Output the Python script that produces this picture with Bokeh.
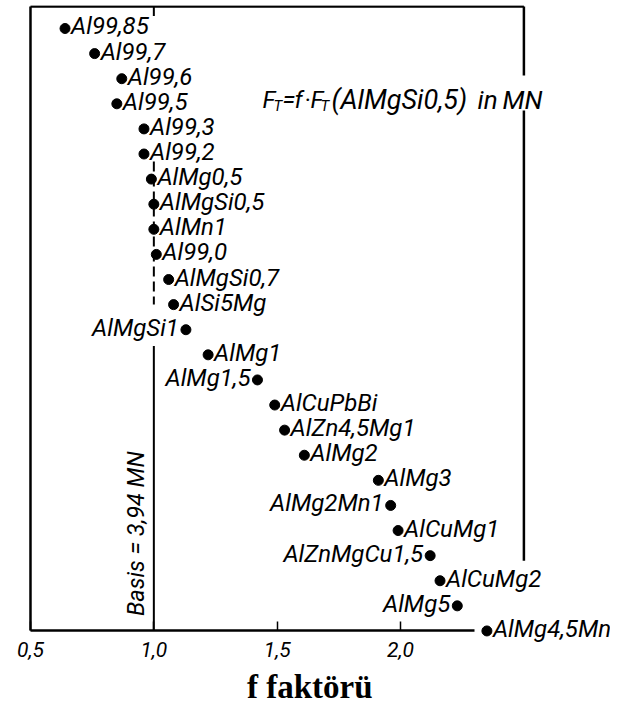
from bokeh.plotting import figure
from bokeh.models import Range1d, FixedTicker, Label, ColumnDataSource
from bokeh.core.properties import value
from bokeh.embed import file_html
from bokeh.resources import INLINE

# ---- data ----
alloys = ["Al99,85", "Al99,7", "Al99,6", "Al99,5", "Al99,3", "Al99,2", "AlMg0,5",
          "AlMgSi0,5", "AlMn1", "Al99,0", "AlMgSi0,7", "AlSi5Mg", "AlMgSi1", "AlMg1",
          "AlMg1,5", "AlCuPbBi", "AlZn4,5Mg1", "AlMg2", "AlMg3", "AlMg2Mn1", "AlCuMg1",
          "AlZnMgCu1,5", "AlCuMg2", "AlMg5", "AlMg4,5Mn"]
f_factor = [0.64, 0.76, 0.87, 0.85, 0.96, 0.96, 0.99, 1.00, 1.00, 1.01, 1.06, 1.08,
            1.13, 1.22, 1.42, 1.49, 1.53, 1.61, 1.91, 1.96, 1.99, 2.12, 2.16, 2.23, 2.35]
label_side = ["r"] * 12 + ["l", "r", "l", "r", "r", "r", "r", "l", "r", "l", "r", "l", "r"]
tick_values = [0.5, 1.0, 1.5, 2.0]
tick_labels = ["0,5", "1,0", "1,5", "2,0"]
basis_text = "Basis = 3,94 MN"
x_title = "f faktörü"

rows = list(range(len(alloys)))
axis_row = 23.98

FONT = "Roboto"

p = figure(width=610, height=710,
           x_range=Range1d(0.3987, 2.851), y_range=Range1d(26.97, -0.916),
           output_backend="svg", toolbar_location=None,
           min_border_left=5, min_border_right=0, min_border_top=5, min_border_bottom=5,
           y_axis_location=None, outline_line_color=None)
p.grid.visible = False
p.background_fill_color = "white"
p.border_fill_color = "white"

# x axis, drawn at a fixed place inside the frame
ax = p.xaxis[0]
ax.fixed_location = axis_row
ax.ticker = FixedTicker(ticks=tick_values)
ax.major_label_overrides = {v: s for v, s in zip(tick_values, tick_labels)}
ax.bounds = (0.5, 2.3)
ax.axis_line_width = 2.5
ax.axis_line_color = "black"
ax.major_tick_in = 9
ax.major_tick_out = 0
ax.major_tick_line_width = 1.5
ax.major_tick_line_color = "black"
ax.minor_tick_line_color = None
ax.major_label_text_font = FONT
ax.major_label_text_font_style = "italic"
ax.major_label_text_font_size = "21px"
ax.major_label_text_color = "black"
ax.major_label_standoff = 12

# axis title
p.add_layout(Label(x=1.632, y=26.25, text=x_title, text_align="center", text_baseline="middle",
                   text_font="Liberation Serif", text_font_style="bold", text_font_size="33px",
                   text_color="black"))

# frame (left, top, right with a gap for the formula)
top_row = -0.88
p.line([0.5, 0.5], [top_row, axis_row], line_color="black", line_width=2.5)
p.line([0.5, 2.5], [top_row, top_row], line_color="black", line_width=2.5)
p.line([2.5, 2.5], [top_row, 1.87], line_color="black", line_width=2.5)
p.line([2.5, 2.5], [3.27, 21.2], line_color="black", line_width=2.5)

# basis line at f = 1.0
p.line([1.0, 1.0], [top_row, -0.5], line_color="black", line_width=2)
p.line([1.0, 1.0], [5.3, 11.0], line_color="black", line_width=2, line_dash="10 5")
p.line([1.0, 1.0], [12.65, axis_row], line_color="black", line_width=2)

# points
p.scatter(f_factor, rows, size=10, color="black")

# labels
src_r = ColumnDataSource(dict(x=[f for f, s in zip(f_factor, label_side) if s == "r"],
                              y=[r for r, s in zip(rows, label_side) if s == "r"],
                              t=[a for a, s in zip(alloys, label_side) if s == "r"]))
src_l = ColumnDataSource(dict(x=[f for f, s in zip(f_factor, label_side) if s == "l"],
                              y=[r for r, s in zip(rows, label_side) if s == "l"],
                              t=[a for a, s in zip(alloys, label_side) if s == "l"]))
common = dict(text="t", text_baseline="middle", text_font=value(FONT),
              text_font_style="italic", text_font_size="24px", text_color="black")
p.text(x="x", y="y", source=src_r, x_offset=6, y_offset=-2, text_align="left", **common)
p.text(x="x", y="y", source=src_l, x_offset=-7, y_offset=-2, text_align="right", **common)

# rotated basis text
p.add_layout(Label(x=1.0, y=23.4, text=basis_text, angle=90, angle_units="deg",
                   x_offset=-18, text_align="left", text_baseline="alphabetic",
                   text_font=FONT, text_font_style="italic", text_font_size="23.5px",
                   text_color="black"))

# formula F_T = f · F_T (AlMgSi0,5) in MN, placed piece by piece (screen px in frame)
tstyle = dict(x_units="screen", y_units="screen", text_font=FONT, text_font_style="italic",
              text_color="black", text_baseline="alphabetic", text_align="left")
frame_h = 700
pieces = [("F", 257, 99, 24), ("T", 268, 105, 15), ("=", 277, 99, 24), ("f", 289, 99, 24),
          ("·", 299, 99, 24), ("F", 305, 99, 24), ("T", 315, 105, 15),
          ("(AlMgSi0,5)", 326, 99, 27), ("in", 472, 99, 26), ("MN", 497, 99, 26)]
for txt, px, py, fs in pieces:
    p.add_layout(Label(x=px, y=frame_h + 5 - py, text=txt, text_font_size=f"{fs}px", **tstyle))

open("out.html", "w").write(file_html(p, INLINE))
